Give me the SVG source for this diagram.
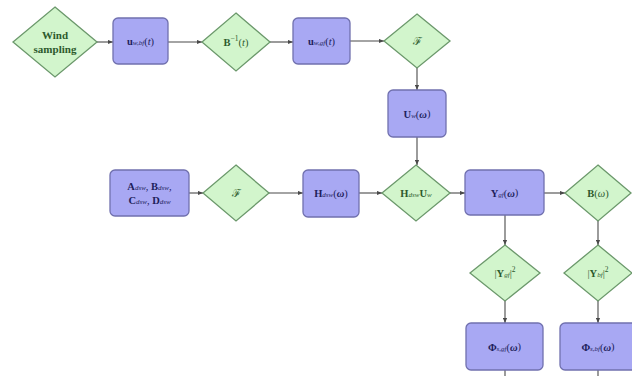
<svg xmlns="http://www.w3.org/2000/svg" width="632" height="376" viewBox="0 0 632 376">
  <defs>
    <marker id="arr" viewBox="0 0 6 6" refX="6" refY="3" markerWidth="5" markerHeight="5" orient="auto" markerUnits="userSpaceOnUse">
      <path d="M0,0.5 L6,3 L0,5.5 z" fill="#4a4a4a"/>
    </marker>
    <style>
      .box { fill: #a8a8f3; stroke: #7070ae; stroke-width: 1.3; }
      .dia { fill: #d2f5cc; stroke: #6b986b; stroke-width: 1.3; }
      .edge { stroke: #4a4a4a; stroke-width: 1.1; fill: none; }
      .arrow { marker-end: url(#arr); }
      text { font-family: "Liberation Serif", "DejaVu Serif", serif; text-anchor: middle; dominant-baseline: central; }
      .bt { fill: #1e1e5c; font-size: 10.5px; }
      .dt { fill: #2d5a2d; font-size: 10.5px; }
      .big { font-size: 11px; }
      .b { font-weight: bold; }
      .i { font-style: italic; }
      .sub { font-size: 7px; font-style: italic; }
      .sup { font-size: 7.5px; }
      .scr { font-family: "DejaVu Serif", serif; font-size: 11px; }
    </style>
  </defs>

  <rect width="632" height="376" fill="#ffffff"/>

  <!-- connectors -->
  <g id="edges">
    <line class="edge arrow" x1="97" y1="42" x2="113" y2="42"/>
    <line class="edge arrow" x1="168" y1="42" x2="202" y2="42"/>
    <line class="edge arrow" x1="270" y1="42" x2="293" y2="42"/>
    <line class="edge arrow" x1="350" y1="41" x2="384" y2="41"/>
    <line class="edge arrow" x1="417" y1="68" x2="417" y2="90"/>
    <line class="edge arrow" x1="417" y1="137" x2="417" y2="165"/>
    <line class="edge arrow" x1="189" y1="193" x2="203" y2="193"/>
    <line class="edge arrow" x1="269" y1="193" x2="303" y2="193"/>
    <line class="edge arrow" x1="359" y1="193" x2="382" y2="193"/>
    <line class="edge arrow" x1="450" y1="193" x2="465" y2="193"/>
    <line class="edge arrow" x1="544" y1="193" x2="565" y2="193"/>
    <line class="edge arrow" x1="505" y1="215" x2="505" y2="245"/>
    <line class="edge arrow" x1="598" y1="221" x2="598" y2="245"/>
    <line class="edge arrow" x1="505" y1="301" x2="505" y2="323"/>
    <line class="edge arrow" x1="598" y1="301" x2="598" y2="323"/>
    <line class="edge" x1="505" y1="370" x2="505" y2="376"/>
    <line class="edge" x1="598" y1="370" x2="598" y2="376"/>
  </g>

  <!-- top row -->
  <g id="wind">
    <polygon class="dia" points="55,7 97,42 55,77 13,42"/>
    <text class="dt b big" x="55" y="35">Wind</text>
    <text class="dt b big" x="55" y="49">sampling</text>
  </g>
  <g id="u_bf">
    <rect class="box" x="113" y="18" width="55" height="46" rx="5"/>
    <text class="bt" x="140.5" y="41"><tspan class="b">u</tspan><tspan class="sub" dy="2">w,bf</tspan><tspan dy="-2">(</tspan><tspan class="i">t</tspan>)</text>
  </g>
  <g id="b_inv">
    <polygon class="dia" points="236,13 270,42 236,71 202,42"/>
    <text class="dt" x="236" y="42"><tspan class="b">B</tspan><tspan class="sup" dy="-4">−1</tspan><tspan dy="4">(</tspan><tspan class="i">t</tspan>)</text>
  </g>
  <g id="u_gf">
    <rect class="box" x="293" y="18" width="57" height="46" rx="5"/>
    <text class="bt" x="321.5" y="41"><tspan class="b">u</tspan><tspan class="sub" dy="2">w,gf</tspan><tspan dy="-2">(</tspan><tspan class="i">t</tspan>)</text>
  </g>
  <g id="fourier1">
    <polygon class="dia" points="417,14 450,41 417,68 384,41"/>
    <text class="dt scr" x="417" y="41">ℱ</text>
  </g>
  <g id="U_w">
    <rect class="box" x="388" y="90" width="58" height="47" rx="5"/>
    <text class="bt" x="417" y="113.5"><tspan class="b">U</tspan><tspan class="sub" dy="2">w</tspan><tspan dy="-2">(</tspan><tspan class="i b">ω</tspan>)</text>
  </g>

  <!-- middle row -->
  <g id="abcd">
    <rect class="box" x="110" y="170" width="79" height="46" rx="5"/>
    <text class="bt" x="149.5" y="186"><tspan class="b">A</tspan><tspan class="sub" dy="2">dsw</tspan><tspan dy="-2">, </tspan><tspan class="b">B</tspan><tspan class="sub" dy="2">dsw</tspan><tspan dy="-2">,</tspan></text>
    <text class="bt" x="149.5" y="200"><tspan class="b">C</tspan><tspan class="sub" dy="2">dsw</tspan><tspan dy="-2">, </tspan><tspan class="b">D</tspan><tspan class="sub" dy="2">dsw</tspan></text>
  </g>
  <g id="fourier2">
    <polygon class="dia" points="236,165 269,193 236,221 203,193"/>
    <text class="dt scr" x="236" y="193">ℱ</text>
  </g>
  <g id="H_dsw">
    <rect class="box" x="303" y="170" width="56" height="47" rx="5"/>
    <text class="bt" x="331" y="193"><tspan class="b">H</tspan><tspan class="sub" dy="2">dsw</tspan><tspan dy="-2">(</tspan><tspan class="i b">ω</tspan>)</text>
  </g>
  <g id="HU">
    <polygon class="dia" points="416,165 450,193 416,221 382,193"/>
    <text class="dt" x="416" y="193"><tspan class="b">H</tspan><tspan class="sub" dy="2">dsw</tspan><tspan class="b" dy="-2">U</tspan><tspan class="sub" dy="2">w</tspan></text>
  </g>
  <g id="Y_gf">
    <rect class="box" x="465" y="170" width="79" height="45" rx="5"/>
    <text class="bt" x="504.5" y="192.5"><tspan class="b">Y</tspan><tspan class="sub" dy="2">gf</tspan><tspan dy="-2">(</tspan><tspan class="i b">ω</tspan>)</text>
  </g>
  <g id="B_w">
    <polygon class="dia" points="598,165 631,193 598,221 565,193"/>
    <text class="dt" x="598" y="193"><tspan class="b">B</tspan>(<tspan class="i">ω</tspan>)</text>
  </g>

  <!-- lower column -->
  <g id="sq_gf">
    <polygon class="dia" points="505,245 540,273 505,301 470,273"/>
    <text class="dt" x="505" y="273">|<tspan class="b">Y</tspan><tspan class="sub" dy="2">gf</tspan><tspan dy="-2">|</tspan><tspan class="sup" dy="-4">2</tspan></text>
  </g>
  <g id="sq_bf">
    <polygon class="dia" points="598,245 632,273 598,301 564,273"/>
    <text class="dt" x="598" y="273">|<tspan class="b">Y</tspan><tspan class="sub" dy="2">bf</tspan><tspan dy="-2">|</tspan><tspan class="sup" dy="-4">2</tspan></text>
  </g>
  <g id="phi_gf">
    <rect class="box" x="466" y="323" width="77" height="47" rx="5"/>
    <text class="bt" x="504.5" y="346.5"><tspan class="b">Φ</tspan><tspan class="sub" dy="2">s,gf</tspan><tspan dy="-2">(</tspan><tspan class="i b">ω</tspan>)</text>
  </g>
  <g id="phi_bf">
    <rect class="box" x="560" y="323" width="77" height="47" rx="5"/>
    <text class="bt" x="598" y="346.5"><tspan class="b">Φ</tspan><tspan class="sub" dy="2">s,bf</tspan><tspan dy="-2">(</tspan><tspan class="i b">ω</tspan>)</text>
  </g>
</svg>
